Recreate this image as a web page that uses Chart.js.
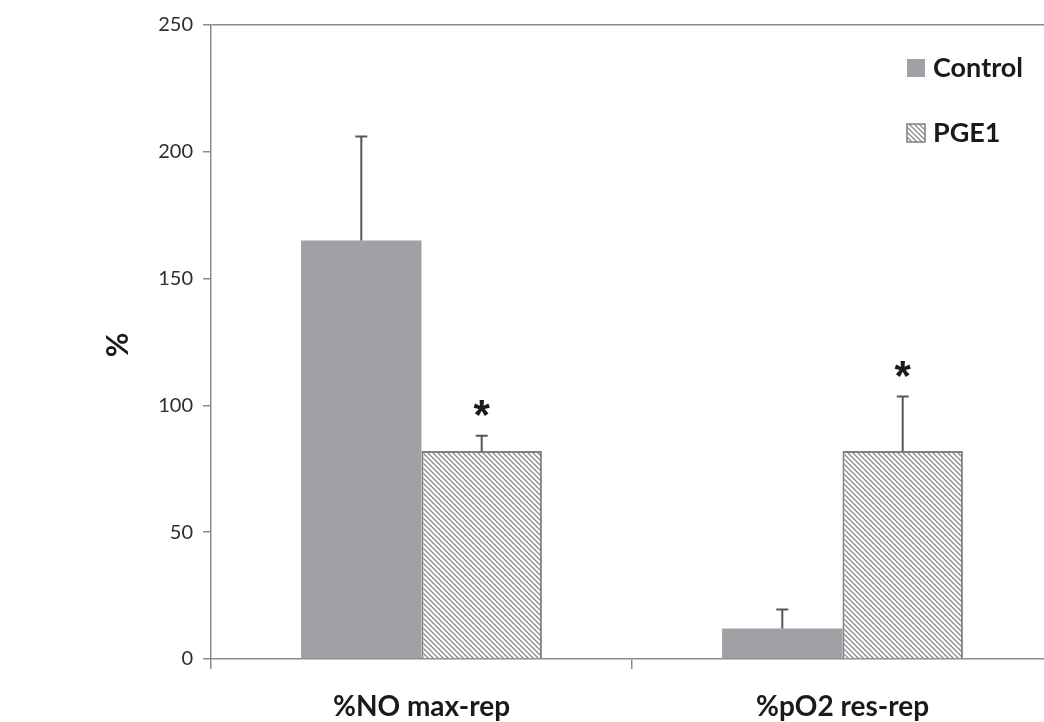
<!DOCTYPE html>
<html>
<head>
<meta charset="utf-8">
<script src="https://cdn.jsdelivr.net/npm/chart.js@4"></script>
<style>
html,body{margin:0;padding:0;background:#fff;overflow:hidden;width:1044px;height:722px;}
canvas{display:block;}
</style>
</head>
<body>
<canvas id="c" width="1060" height="722" style="width:1060px;height:722px"></canvas>
<script>
// ---- data ----
const categories = ['%NO max-rep', '%pO2 res-rep'];
const seriesNames = ['Control', 'PGE1'];
const controlValues = [165, 12];
const controlErrors = [41, 7.5];
const pge1Values = [82, 82];
const pge1Errors = [6, 21.5];
const pge1Marks = ['*', '*'];
const yTicks = [0, 50, 100, 150, 200, 250];

// hatch pattern
function makeHatch() {
  const s = 5;
  const c = document.createElement('canvas');
  c.width = s; c.height = s;
  const g = c.getContext('2d');
  g.fillStyle = '#ffffff';
  g.fillRect(0, 0, s, s);
  g.strokeStyle = '#8a8a8a';
  g.lineWidth = 1.3;
  g.beginPath();
  g.moveTo(-1, -1); g.lineTo(s + 1, s + 1);
  g.moveTo(-1, s - 1); g.lineTo(1, s + 1);
  g.moveTo(s - 1, -1); g.lineTo(s + 1, 1);
  g.stroke();
  return g.createPattern(c, 'repeat');
}
const ctx0 = document.getElementById('c').getContext('2d');
const hatch = makeHatch();

const AXIS = '#8c8c8c';
const CTRL = '#a0a1a4';

const overlay = {
  id: 'overlay',
  afterDatasetsDraw(chart) {
    const { ctx, scales: { y } } = chart;
    const errs = [controlErrors, pge1Errors];
    const vals = [controlValues, pge1Values];
    ctx.save();
    for (let d = 0; d < 2; d++) {
      const meta = chart.getDatasetMeta(d);
      meta.data.forEach((bar, i) => {
        const x = bar.x;
        const y0 = y.getPixelForValue(vals[d][i]);
        const y1 = y.getPixelForValue(vals[d][i] + errs[d][i]);
        ctx.strokeStyle = '#555';
        ctx.lineWidth = 2;
        ctx.beginPath();
        ctx.moveTo(x, y0); ctx.lineTo(x, y1);
        ctx.moveTo(x - 6, y1); ctx.lineTo(x + 6, y1);
        ctx.stroke();
        if (d === 1 && pge1Marks[i]) {
          ctx.fillStyle = '#1a1a1a';
          ctx.font = 'bold 42px "Liberation Sans", Arial, sans-serif';
          ctx.textAlign = 'center';
          ctx.textBaseline = 'middle';
          ctx.fillText(pge1Marks[i], x, y1 - 18);
        }
      });
    }
    // y axis title
    ctx.fillStyle = '#1a1a1a';
    ctx.font = 'bold 30px Lato, sans-serif';
    ctx.translate(118, 345);
    ctx.rotate(-Math.PI / 2);
    ctx.textAlign = 'center';
    ctx.textBaseline = 'middle';
    ctx.fillText('%', 0, 0);
    ctx.restore();

    // legend
    ctx.save();
    const fills = [CTRL, hatch];
    const ys = [68, 133];
    for (let k = 0; k < 2; k++) {
      ctx.fillStyle = fills[k];
      ctx.fillRect(907, ys[k] - 9, 18, 18);
      if (k === 1) {
        ctx.strokeStyle = '#808080';
        ctx.lineWidth = 1.5;
        ctx.strokeRect(907, ys[k] - 9, 18, 18);
      }
      ctx.fillStyle = '#1a1a1a';
      ctx.font = 'bold 27px Lato, sans-serif';
      ctx.textAlign = 'left';
      ctx.textBaseline = 'middle';
      ctx.fillText(seriesNames[k], 933, ys[k]);
    }
    ctx.restore();
  }
};

new Chart(ctx0, {
  type: 'bar',
  data: {
    labels: categories,
    datasets: [
      { label: seriesNames[0], data: controlValues, backgroundColor: CTRL, borderWidth: 0,
        categoryPercentage: 0.572, barPercentage: 1.0 },
      { label: seriesNames[1], data: pge1Values, backgroundColor: hatch, borderColor: '#808080', borderWidth: 2,
        categoryPercentage: 0.572, barPercentage: 1.0 }
    ]
  },
  options: {
    responsive: false,
    animation: false,
    events: [],
    layout: { padding: { left: 0, top: 25, right: 7, bottom: 0 } },
    plugins: { legend: { display: false }, tooltip: { enabled: false } },
    scales: {
      x: {
        grid: { display: true, offset: true, drawOnChartArea: false, color: AXIS, tickColor: AXIS, tickLength: 10, lineWidth: 1.5 },
        border: { display: true, color: AXIS, width: 1.5 },
        ticks: { color: '#1a1a1a', font: { family: 'Lato', size: 28, weight: 'bold' }, padding: 21 },
        afterFit(s) { s.height = 63; }
      },
      y: {
        min: 0, max: 250,
        afterBuildTicks(s) { s.ticks = yTicks.map(v => ({ value: v })); },
        grid: {
          display: true, drawOnChartArea: true,
          color: c => (c.tick && c.tick.value === 250 ? AXIS : 'rgba(0,0,0,0)'),
          tickColor: AXIS, tickLength: 8, lineWidth: 1.5
        },
        border: { display: true, color: AXIS, width: 1.5 },
        ticks: { color: '#2e2e2e', font: { family: 'Lato', size: 20 }, padding: 10 },
        afterFit(s) { s.width = 211; }
      }
    }
  },
  plugins: [overlay]
});
</script>
</body>
</html>
